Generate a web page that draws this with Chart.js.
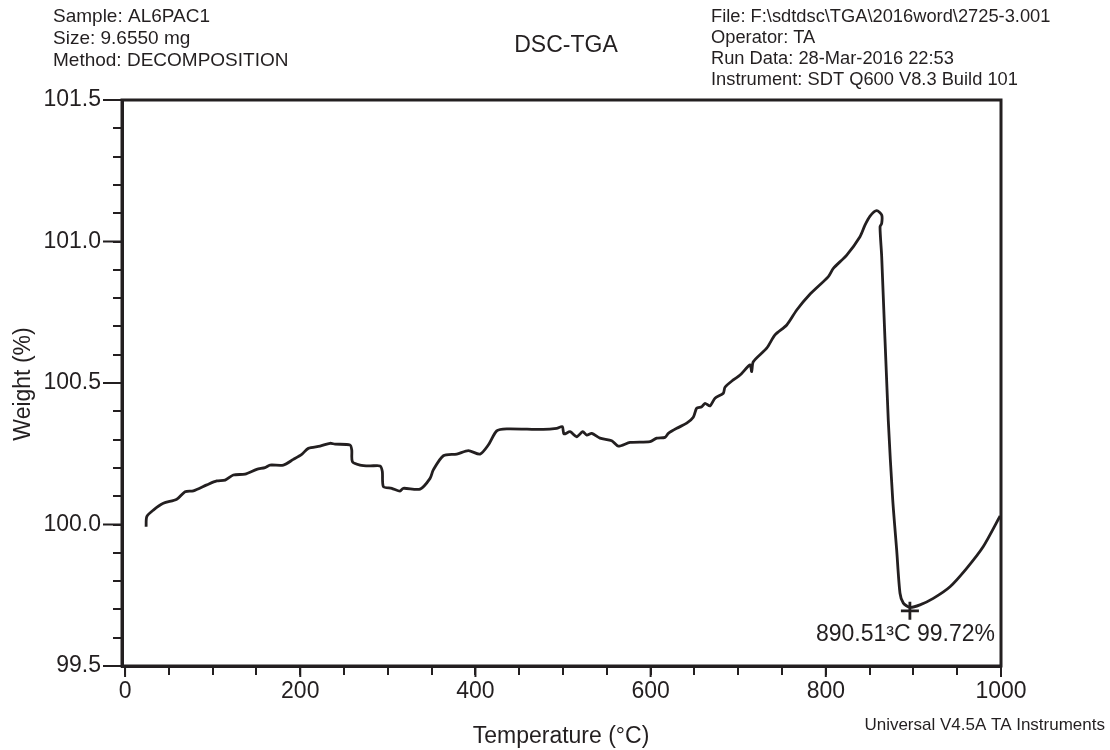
<!DOCTYPE html>
<html>
<head>
<meta charset="utf-8">
<script src="https://cdn.jsdelivr.net/npm/chart.js@4.4.1/dist/chart.umd.min.js"></script>
<style>
  body { margin: 0; background: #fff; }
  #wrap { width: 1110px; height: 750px; }
</style>
</head>
<body>
<div id="wrap"><canvas id="tga"></canvas></div>
<script>
// TGA curve (temperature in °C, weight in %)
const temps = [24.0, 24.8, 32.3, 43.7, 59.0, 68.5, 78.0, 93.3, 104.7, 114.2, 123.6, 137.0, 150.3, 159.8, 165.5, 180.7,
  192.1, 201.7, 209.2, 222.6, 234.0, 239.7, 256.8, 258.8, 259.5, 268.3, 279.7, 291.1, 293.7, 294.9, 304.5, 313.9,
  317.7, 336.8, 348.2, 351.9, 363.4, 378.7, 391.9, 405.3, 414.7, 424.3, 435.7, 477.5, 492.8, 499.2, 501.1, 508.0,
  515.6, 522.5, 527.1, 532.8, 542.2, 555.6, 563.1, 576.5, 599.3, 607.0, 616.4, 620.2, 629.8, 641.2, 648.7, 652.6,
  658.3, 662.1, 667.8, 673.5, 683.0, 684.9, 694.4, 702.1, 713.5, 715.4, 717.2, 732.5, 742.0, 755.4, 766.8, 781.1,
  802.9, 808.6, 823.9, 839.0, 844.7, 850.5, 858.1, 863.8, 863.8, 861.9, 863.8, 871.3, 876.4, 880.9, 884.7, 888.5,
  896.1, 907.5, 922.7, 941.8, 960.8, 979.8, 999.0];
const weights = [99.992, 100.028, 100.051, 100.075, 100.089, 100.116, 100.119, 100.140, 100.154, 100.157, 100.175, 100.178, 100.195, 100.201, 100.210, 100.210,
  100.230, 100.248, 100.269, 100.277, 100.287, 100.284, 100.281, 100.263, 100.222, 100.210, 100.207, 100.207, 100.187, 100.134, 100.128, 100.118,
  100.128, 100.125, 100.163, 100.193, 100.243, 100.249, 100.261, 100.249, 100.281, 100.331, 100.338, 100.336, 100.340, 100.346, 100.320, 100.328,
  100.310, 100.328, 100.316, 100.322, 100.305, 100.296, 100.277, 100.290, 100.293, 100.305, 100.308, 100.322, 100.340, 100.358, 100.379, 100.411,
  100.416, 100.428, 100.419, 100.446, 100.464, 100.485, 100.511, 100.528, 100.564, 100.540, 100.575, 100.623, 100.670, 100.705, 100.758, 100.811,
  100.876, 100.905, 100.952, 101.017, 101.058, 101.090, 101.109, 101.094, 101.064, 101.052, 100.946, 100.369, 100.087, 99.910, 99.757, 99.722,
  99.707, 99.716, 99.739, 99.780, 99.845, 99.922, 100.030];

// marked minimum
const markT = [896];
const markW = [99.695];
const markLabel = '890.51³C 99.72%';

const xTicks = [0, 50, 100, 150, 200, 250, 300, 350, 400, 450, 500, 550, 600, 650, 700, 750, 800, 850, 900, 950, 1000];
const xLabels = [0, 200, 400, 600, 800, 1000];
const yTicks = [99.5, 99.6, 99.7, 99.8, 99.9, 100.0, 100.1, 100.2, 100.3, 100.4, 100.5, 100.6, 100.7, 100.8, 100.9, 101.0, 101.1, 101.2, 101.3, 101.4, 101.5];
const yLabels = [99.5, 100.0, 100.5, 101.0, 101.5];

const headerLeft = ['Sample: AL6PAC1', 'Size: 9.6550 mg', 'Method: DECOMPOSITION'];
const headerRight = ['File: F:\\sdtdsc\\TGA\\2016word\\2725-3.001', 'Operator: TA', 'Run Data: 28-Mar-2016 22:53', 'Instrument: SDT Q600 V8.3 Build 101'];

const ink = '#231f20';
const font = '"Liberation Sans", Arial, sans-serif';

const curve = temps.map((t, i) => ({ x: t, y: weights[i] }));
const mark = markT.map((t, i) => ({ x: t, y: markW[i] }));

// frame, longer major ticks and all the loose text
const decor = {
  id: 'decor',
  afterDraw(chart) {
    const ctx = chart.ctx;
    const a = chart.chartArea;
    const ys = chart.scales.y;
    const xs = chart.scales.x;
    ctx.save();
    ctx.strokeStyle = ink;
    ctx.lineWidth = 3;
    ctx.strokeRect(a.left, a.top, a.right - a.left, a.bottom - a.top);

    ctx.lineWidth = 2;
    ctx.beginPath();
    yLabels.forEach(v => {
      const p = ys.getPixelForValue(v);
      ctx.moveTo(a.left - 19, p);
      ctx.lineTo(a.left, p);
    });
    xLabels.forEach(v => {
      const p = xs.getPixelForValue(v);
      ctx.moveTo(p, a.bottom);
      ctx.lineTo(p, a.bottom + 11);
    });
    ctx.stroke();

    ctx.fillStyle = ink;
    ctx.textBaseline = 'middle';
    ctx.textAlign = 'left';
    ctx.font = '19px ' + font;
    headerLeft.forEach((s, i) => ctx.fillText(s, 53, 17 + i * 22));
    ctx.font = '18.3px ' + font;
    headerRight.forEach((s, i) => ctx.fillText(s, 711, 17 + i * 21));
    ctx.font = '23px ' + font;
    ctx.textAlign = 'center';
    ctx.fillText('DSC-TGA', 566, 46);

    ctx.fillText('Temperature (°C)', 561, 737);
    ctx.save();
    ctx.translate(24, 384);
    ctx.rotate(-Math.PI / 2);
    ctx.fillText('Weight (%)', 0, 0);
    ctx.restore();

    ctx.textAlign = 'right';
    ctx.fillText(markLabel, 995, 635);
    ctx.font = '17px ' + font;
    ctx.fillText('Universal V4.5A TA Instruments', 1105, 725);
    ctx.restore();
  }
};

new Chart(document.getElementById('tga'), {
  type: 'scatter',
  data: {
    datasets: [
      {
        data: curve,
        showLine: true,
        borderColor: ink,
        borderWidth: 2.8,
        pointRadius: 0,
        tension: 0.25
      },
      {
        data: mark,
        pointStyle: 'cross',
        pointRadius: 9,
        borderColor: ink,
        borderWidth: 2.8,
        showLine: false
      }
    ]
  },
  options: {
    responsive: true,
    maintainAspectRatio: false,
    animation: false,
    layout: { padding: { top: 100, right: 109, left: 0, bottom: 0 } },
    plugins: { legend: { display: false }, tooltip: { enabled: false } },
    scales: {
      x: {
        type: 'linear',
        min: -3.5,
        max: 1000,
        afterBuildTicks: s => { s.ticks = xTicks.map(v => ({ value: v })); },
        afterFit: s => { s.height = 84; },
        grid: { drawOnChartArea: false, tickLength: 9, color: ink, lineWidth: 2 },
        border: { display: true, color: ink, width: 3 },
        ticks: {
          autoSkip: false,
          maxRotation: 0,
          padding: 3,
          color: ink,
          font: { family: font, size: 23 },
          callback: v => xLabels.includes(v) ? String(v) : ''
        }
      },
      y: {
        type: 'linear',
        min: 99.5,
        max: 101.5,
        afterBuildTicks: s => { s.ticks = yTicks.map(v => ({ value: v })); },
        afterFit: s => { s.width = 122; },
        grid: { drawOnChartArea: false, tickLength: 9, color: ink, lineWidth: 2 },
        border: { display: true, color: ink, width: 3 },
        ticks: {
          autoSkip: false,
          padding: 12,
          color: ink,
          font: { family: font, size: 23 },
          callback: v => yLabels.some(l => Math.abs(l - v) < 1e-6) ? v.toFixed(1) : ''
        }
      }
    }
  },
  plugins: [decor]
});
</script>
</body>
</html>
